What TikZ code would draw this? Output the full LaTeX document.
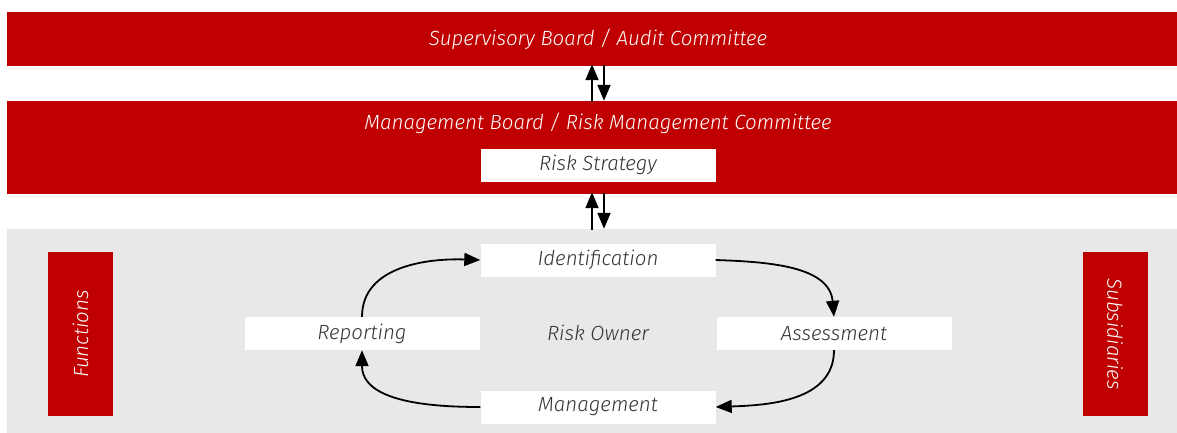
\documentclass[tikz,border=0pt]{standalone}
\usepackage{fontspec}
\setmainfont{Fira Sans}[UprightFont=* Light, ItalicFont=* Light Italic]
\usetikzlibrary{arrows.meta}
\definecolor{boardred}{HTML}{C00000}
\definecolor{ownergrey}{HTML}{E8E8E8}
\definecolor{boxtext}{HTML}{333333}
\newcommand{\diagfont}{\fontsize{20.5}{24}\selectfont\itshape}
\tikzset{
  board/.style={fill=boardred, text=white, inner sep=0pt, font=\diagfont},
  stagebox/.style={fill=white, text=boxtext, inner sep=0pt, minimum width=235, minimum height=33, font=\diagfont},
  sidebox/.style={fill=boardred, text=white, inner sep=0pt, minimum width=65, minimum height=164, font=\diagfont},
  flow/.style={-{Triangle[length=16pt,width=13pt]}, line width=1.8pt, black},
}
\begin{document}
\begin{tikzpicture}[x=1pt, y=-1pt]
            \useasboundingbox (0,0) rectangle (1177,432);
            \fill[white] (0,0) rectangle (1177,432);
            % boards
            \node[board, minimum width=1170, minimum height=54] (supboard) at (592,39) {};
            \node[text=white, font=\diagfont] at (598,39) {Supervisory Board / Audit Committee};
            \node[board, minimum width=1170, minimum height=93] (mgmtboard) at (592,147.5) {};
            \node[text=white, font=\diagfont] at (598,123) {Management Board / Risk Management Committee};
            \node[stagebox] (riskstrat) at (598,165) {Risk Strategy};
            % risk owner area
            \node[fill=ownergrey, inner sep=0pt, minimum width=1170, minimum height=204] (ownerarea) at (592,331) {};
            \node[text=boxtext, font=\diagfont] (owner) at (598,333) {Risk Owner};
            \node[stagebox] (ident) at (598,260) {Identification};
            \node[stagebox] (assess) at (834,333.5) {Assessment};
            \node[stagebox] (manage) at (598,407) {Management};
            \node[stagebox] (report) at (362,333.5) {Reporting};
            \node[sidebox] (func) at (80.5,334) {\rotatebox{90}{Functions}};
            \node[sidebox] (subs) at (1115,334) {\rotatebox{-90}{Subsidiaries}};
            % connectors
            \draw[flow] ([yshift=-1]mgmtboard.north) -- ([yshift=2]supboard.south);
            \draw[flow] ([xshift=12, yshift=1]supboard.south) -- ([xshift=12]mgmtboard.north);
            \draw[flow] ([yshift=-1]ownerarea.north) -- ([yshift=2]mgmtboard.south);
            \draw[flow] ([xshift=12, yshift=1]mgmtboard.south) -- ([xshift=12]ownerarea.north);
            \draw[flow] (report.north) to[out=90, in=178] (ident.west);
            \draw[flow] (ident.east) to[out=-2, in=95] (assess.north);
            \draw[flow] (assess.south) to[out=-90, in=2] (manage.east);
            \draw[flow] (manage.west) to[out=180, in=-90] (report.south);
        \end{tikzpicture}
\end{document}
